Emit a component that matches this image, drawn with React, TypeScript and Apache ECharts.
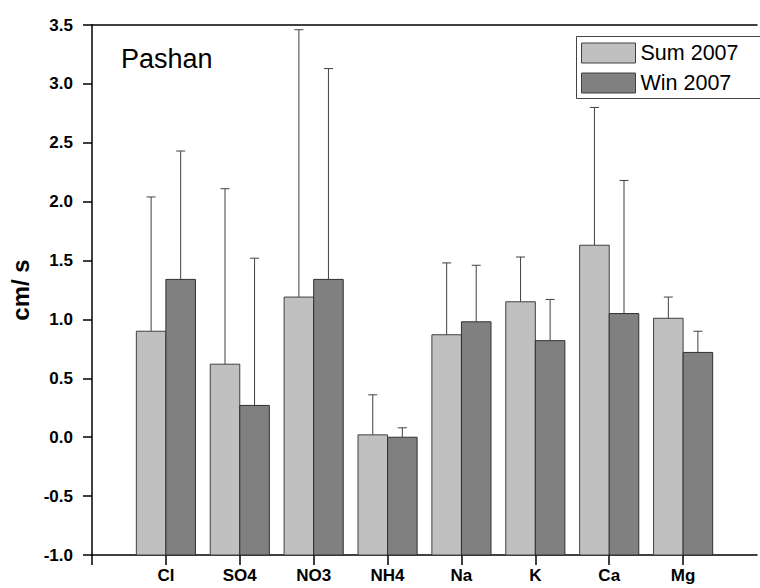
import React, { useEffect, useRef } from "react";
import * as echarts from "echarts";

const categories = ["Cl", "SO4", "NO3", "NH4", "Na", "K", "Ca", "Mg"];
const sum2007 = [0.9, 0.62, 1.19, 0.02, 0.87, 1.15, 1.63, 1.01];
const sum2007SD = [1.14, 1.49, 2.27, 0.34, 0.61, 0.38, 1.17, 0.18];
const win2007 = [1.34, 0.27, 1.34, 0.0, 0.98, 0.82, 1.05, 0.72];
const win2007SD = [1.09, 1.25, 1.79, 0.08, 0.48, 0.35, 1.13, 0.18];
const yTicks = { min: -1, max: 3.5, interval: 0.5 };

const FONT = "'Liberation Sans', Arial, sans-serif";
const axisCats = ["", ...categories, ""];

function makeRender(side: "left" | "right", fill: string, stroke: string) {
  return (params: any, api: any) => {
    const x = api.value(0);
    const v = api.value(1);
    const sd = api.value(2);
    const top = api.coord([x, v]);
    const base = api.coord([x, yTicks.min]);
    const cap = api.coord([x, v + sd]);
    const band = api.size([1, 0])[0];
    const bw = band * 0.4;
    const left = side === "left" ? top[0] - bw : top[0];
    const cx = left + bw / 2;
    return {
      type: "group",
      children: [
        {
          type: "line",
          shape: { x1: cx, y1: top[1], x2: cx, y2: cap[1] },
          style: { stroke: "#404040", lineWidth: 1 },
        },
        {
          type: "line",
          shape: { x1: cx - 4.5, y1: cap[1], x2: cx + 4.5, y2: cap[1] },
          style: { stroke: "#404040", lineWidth: 1 },
        },
        {
          type: "rect",
          shape: { x: left, y: top[1], width: bw, height: base[1] - top[1] },
          style: { fill, stroke, lineWidth: 1 },
        },
      ],
    };
  };
}

export default function App() {
  const ref = useRef<HTMLDivElement>(null);
  useEffect(() => {
    document.body.style.margin = "0";
    const chart = echarts.init(ref.current!, null, { renderer: "svg" });
    const sumData = categories.map((c, i) => [i + 1, sum2007[i], sum2007SD[i]]);
    const winData = categories.map((c, i) => [i + 1, win2007[i], win2007SD[i]]);
    chart.setOption({
      animation: false,
      backgroundColor: "#ffffff",
      grid: { left: 91, right: -11, top: 25, bottom: 33 },
      legend: {
        orient: "vertical",
        left: 574,
        top: 34,
        icon: "rect",
        itemWidth: 54,
        itemHeight: 20,
        itemGap: 8,
        padding: [8, 0, 6, 7],
        textStyle: { fontFamily: FONT, fontSize: 21.5, color: "#000" },
        data: [
          { name: "Sum 2007", itemStyle: { color: "#c0c0c0", borderColor: "#404040", borderWidth: 1 } },
          { name: "Win 2007", itemStyle: { color: "#808080", borderColor: "#404040", borderWidth: 1 } },
        ],
      },
      graphic: [
        {
          type: "rect",
          left: 574,
          top: 34,
          shape: { width: 184, height: 62 },
          style: { fill: "none", stroke: "#444", lineWidth: 1 },
          z: 10,
        },
        {
          type: "text",
          left: 121,
          top: 45,
          style: { text: "Pashan", fontFamily: FONT, fontSize: 27, fill: "#000" },
        },
      ],
      xAxis: [
        {
          type: "category",
          data: axisCats,
          boundaryGap: false,
          axisLine: { onZero: false, lineStyle: { color: "#000", width: 1.5 } },
          axisTick: {
            length: 10,
            interval: (i: number) => i < axisCats.length - 1,
            lineStyle: { color: "#000", width: 1.5 },
          },
          axisLabel: {
            interval: 0,
            margin: 12,
            fontFamily: FONT,
            fontWeight: "bold",
            fontSize: 17,
            color: "#000",
          },
          splitLine: { show: false },
        },
        {
          type: "category",
          data: axisCats,
          position: "top",
          boundaryGap: false,
          axisLine: { onZero: false, lineStyle: { color: "#000", width: 1.5 } },
          axisTick: { show: false },
          axisLabel: { show: false },
        },
      ],
      yAxis: {
        type: "value",
        min: yTicks.min,
        max: yTicks.max,
        interval: yTicks.interval,
        name: "cm/ s",
        nameLocation: "middle",
        nameRotate: 90,
        nameGap: 60,
        nameTextStyle: { fontFamily: FONT, fontWeight: "bold", fontSize: 24, color: "#000" },
        axisLine: { show: true, onZero: false, lineStyle: { color: "#000", width: 1.5 } },
        axisTick: { show: true, length: 9, lineStyle: { color: "#000", width: 1.5 } },
        axisLabel: {
          margin: 19,
          fontFamily: FONT,
          fontWeight: "bold",
          fontSize: 17,
          color: "#000",
          formatter: (v: number) => v.toFixed(1),
        },
        splitLine: { show: false },
      },
      series: [
        {
          name: "Sum 2007",
          type: "custom",
          xAxisIndex: 0,
          itemStyle: { color: "#c0c0c0", borderColor: "#404040" },
          encode: { x: 0, y: 1 },
          renderItem: makeRender("left", "#c0c0c0", "#404040"),
          data: sumData,
          z: 2,
        },
        {
          name: "Win 2007",
          type: "custom",
          xAxisIndex: 0,
          itemStyle: { color: "#808080", borderColor: "#404040" },
          encode: { x: 0, y: 1 },
          renderItem: makeRender("right", "#808080", "#303030"),
          data: winData,
          z: 2,
        },
      ],
    });
    return () => chart.dispose();
  }, []);
  return <div ref={ref} style={{ width: 760, height: 588 }} />;
}
